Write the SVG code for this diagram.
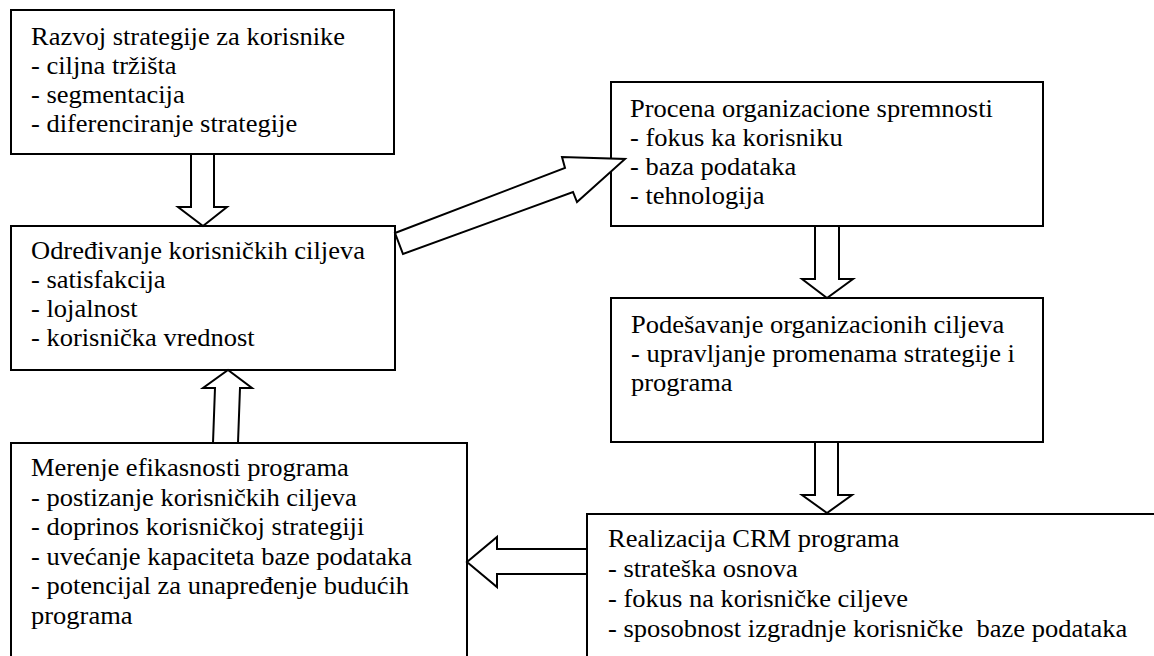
<svg xmlns="http://www.w3.org/2000/svg" width="1154" height="656" viewBox="0 0 1154 656">
  <style>
    .box { fill: #ffffff; stroke: #000000; stroke-width: 2; }
    .arrow { fill: #ffffff; stroke: #000000; stroke-width: 2; stroke-linejoin: miter; }
    .t { font-size: 25px; fill: #000000; }
  </style>
  <rect x="0" y="0" width="1154" height="656" fill="#ffffff"/>

  <!-- Strategy for customers -->
  <g id="node-razvoj">
    <rect class="box" x="11" y="10" width="383" height="144"/>
    <text class="t" font-family="'Liberation Serif', Tinos, 'Times New Roman', serif" transform="translate(31 0) scale(1.06 1)">
      <tspan x="0" y="45">Razvoj strategije za korisnike</tspan>
      <tspan x="0" y="74">- ciljna tržišta</tspan>
      <tspan x="0" y="103">- segmentacija</tspan>
      <tspan x="0" y="132">- diferenciranje strategije</tspan>
    </text>
  </g>

  <!-- Customer goals -->
  <g id="node-odredjivanje">
    <rect class="box" x="11" y="226" width="384" height="144"/>
    <text class="t" font-family="'Liberation Serif', Tinos, 'Times New Roman', serif" transform="translate(31 0) scale(1.06 1)">
      <tspan x="0" y="259">Određivanje korisničkih ciljeva</tspan>
      <tspan x="0" y="288">- satisfakcija</tspan>
      <tspan x="0" y="317">- lojalnost</tspan>
      <tspan x="0" y="346">- korisnička vrednost</tspan>
    </text>
  </g>

  <!-- Organisational readiness -->
  <g id="node-procena">
    <rect class="box" x="611" y="82" width="432" height="144"/>
    <text class="t" font-family="'Liberation Serif', Tinos, 'Times New Roman', serif" transform="translate(630 0) scale(1.06 1)">
      <tspan x="0" y="117">Procena organizacione spremnosti</tspan>
      <tspan x="0" y="146">- fokus ka korisniku</tspan>
      <tspan x="0" y="175">- baza podataka</tspan>
      <tspan x="0" y="204">- tehnologija</tspan>
    </text>
  </g>

  <!-- Organisational goals -->
  <g id="node-podesavanje">
    <rect class="box" x="611" y="298" width="432" height="144"/>
    <text class="t" font-family="'Liberation Serif', Tinos, 'Times New Roman', serif" transform="translate(631 0) scale(1.06 1)">
      <tspan x="0" y="333">Podešavanje organizacionih ciljeva</tspan>
      <tspan x="0" y="362">- upravljanje promenama strategije i</tspan>
      <tspan x="0" y="391">programa</tspan>
    </text>
  </g>

  <!-- CRM programme execution (runs off the right and bottom edges) -->
  <g id="node-realizacija">
    <rect class="box" x="587" y="514" width="620" height="200"/>
    <text class="t" font-family="'Liberation Serif', Tinos, 'Times New Roman', serif" transform="translate(608 0) scale(1.06 1)">
      <tspan x="0" y="547">Realizacija CRM programa</tspan>
      <tspan x="0" y="577">- strateška osnova</tspan>
      <tspan x="0" y="607">- fokus na korisničke ciljeve</tspan>
      <tspan x="0" y="637">- sposobnost izgradnje korisničke&#160; baze podataka</tspan>
    </text>
  </g>

  <!-- Programme effectiveness (runs off the bottom edge) -->
  <g id="node-merenje">
    <rect class="box" x="11" y="443" width="456" height="260"/>
    <text class="t" font-family="'Liberation Serif', Tinos, 'Times New Roman', serif" transform="translate(31 0) scale(1.06 1)">
      <tspan x="0" y="476">Merenje efikasnosti programa</tspan>
      <tspan x="0" y="506">- postizanje korisničkih ciljeva</tspan>
      <tspan x="0" y="535.5">- doprinos korisničkoj strategiji</tspan>
      <tspan x="0" y="565">- uvećanje kapaciteta baze podataka</tspan>
      <tspan x="0" y="594.5">- potencijal za unapređenje budućih</tspan>
      <tspan x="0" y="624">programa</tspan>
    </text>
  </g>

  <!-- Block arrows between the stages -->
  <g id="connectors">
    <polygon class="arrow" points="191,154 214,154 214,207 227,207 203,226 178,207 191,207"/>
    <polygon class="arrow" points="395,233 565,168 562,157 625,159 577,202 573,192 403,254"/>
    <polygon class="arrow" points="815,226 839,226 839,279 853,279 827,298 802,279 815,279"/>
    <polygon class="arrow" points="815,442 838,442 838,495 852,495 827,513 802,495 815,495"/>
    <polygon class="arrow" points="587,549 497,549 497,537 467,562 497,587 497,574 587,574"/>
    <polygon class="arrow" points="213,443 238,443 240,388 252,388 228,370 203,388 215,388"/>
  </g>
</svg>
